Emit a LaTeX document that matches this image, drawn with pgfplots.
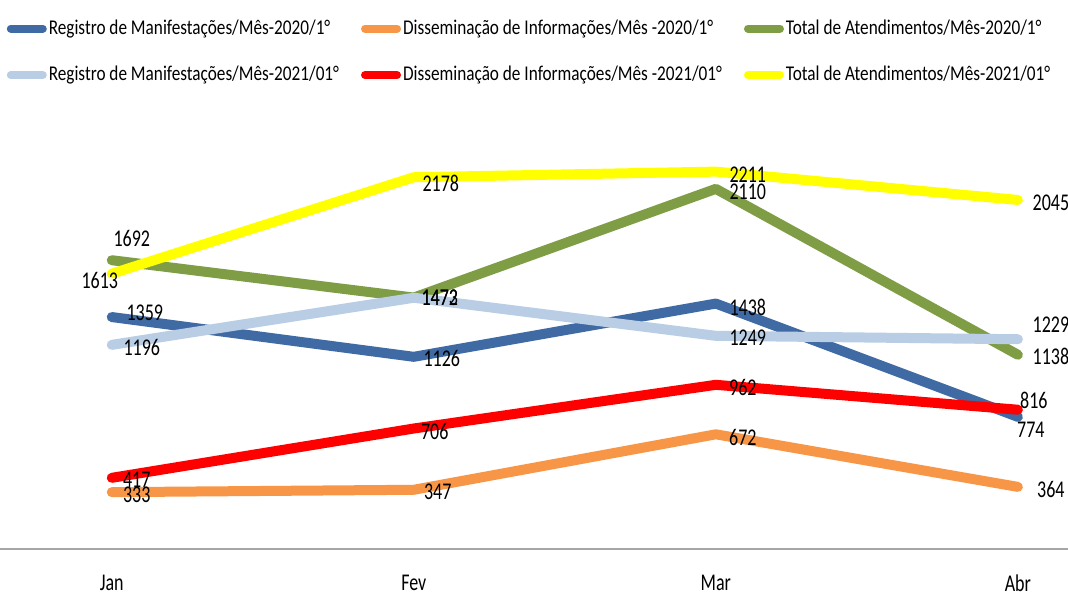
\documentclass[border=0pt]{standalone}
\usepackage{pgfplots}
\pgfplotsset{compat=1.18}
\usepackage{pgfplotstable}
\usepackage{fontspec}
\setmainfont{Carlito}
\newfontfamily\legfont[FakeStretch=0.82]{Carlito}
\newfontfamily\lblfont[FakeStretch=0.75]{Carlito}
\definecolor{cblue}{HTML}{3F6AA3}
\definecolor{corange}{HTML}{F79646}
\definecolor{cgreen}{HTML}{7E9D45}
\definecolor{clblue}{HTML}{B9CDE5}
\definecolor{cred}{HTML}{FF0000}
\definecolor{cyellow}{HTML}{FFFF00}
\pgfplotstableread{
x y dx dy
0 1359 16.5 2
1 1126 14 -1
2 1438 16 -1.75
3 774 6.5 -6.5
}\tblue
\pgfplotstableread{
x y dx dy
0 333 12.5 -1.5
1 347 12 -1
2 672 13.5 -1.5
3 364 16.5 -1.5
}\torange
\pgfplotstableread{
x y dx dy
0 1692 10 11
1 1473 13 0
2 2110 16 -1.5
3 1138 16.5 -1
}\tgreen
\pgfplotstableread{
x y dx dy
0 1196 15 -1.5
1 1472 13 0
2 1249 16 -1
3 1229 16.5 7.5
}\tlblue
\pgfplotstableread{
x y dx dy
0 417 12.5 -1
1 706 10.5 -1.5
2 962 13.5 -1.5
3 816 8 4.5
}\tred
\pgfplotstableread{
x y dx dy
0 1613 -6 -3.5
1 2178 13.5 -3
2 2211 16 -1.5
3 2045 16.5 -1.5
}\tyellow
\begin{document}
\begin{tikzpicture}
\useasboundingbox (0,-23pt) rectangle (534pt,274.5pt);
\begin{axis}[
 at={(0,0)}, anchor=south west,
 scale only axis, width=534pt, height=219.5pt,
 xmin=-0.37, xmax=3.166, ymin=0, ymax=2572,
 axis x line=bottom, axis y line=none,
 axis line style={-, draw=gray!70, line width=1pt},
 xtick={0,1,2,3}, xticklabels={Jan,Fev,Mar,Abr},
 major tick length=0pt,
 xticklabel style={font=\lblfont\fontsize{12}{14}\selectfont, anchor=center, inner sep=0pt, yshift=-17pt},
 ytick=\empty,
 clip=false,
 legend columns=3,
 legend cell align=left,
 legend style={draw=none, fill=none, at={(0.006,1.211)}, anchor=north west,
   font=\legfont\fontsize{10.5}{12}\selectfont,
   nodes={inner sep=1pt},
   /tikz/every even column/.append style={column sep=10pt},
   /tikz/column 4/.append style={column sep=0pt},
   row sep=12.5pt, inner sep=0pt},
 legend image code/.code={\draw[line width=4pt, line cap=round] (2pt,0pt) -- (18pt,0pt);},
 every axis plot/.append style={line width=5pt, line cap=round, line join=round, mark=none},
 nodes near coords,
 point meta=explicit symbolic,
 visualization depends on={\thisrow{dx} \as \dx},
 visualization depends on={\thisrow{dy} \as \dy},
 every node near coord/.append style={font=\lblfont\fontsize{12}{14}\selectfont, text=black, anchor=center, xshift=\dx pt, yshift=\dy pt},
]
\addplot[cblue] table[x=x,y=y,meta=y] {\tblue};
\addlegendentry{Registro de Manifestações/Mês-2020/1°}
\addplot[corange] table[x=x,y=y,meta=y] {\torange};
\addlegendentry{Disseminação de Informações/Mês -2020/1°}
\addplot[cgreen] table[x=x,y=y,meta=y] {\tgreen};
\addlegendentry{Total de Atendimentos/Mês-2020/1°}
\addplot[clblue] table[x=x,y=y,meta=y] {\tlblue};
\addlegendentry{Registro de Manifestações/Mês-2021/01°}
\addplot[cred] table[x=x,y=y,meta=y] {\tred};
\addlegendentry{Disseminação de Informações/Mês -2021/01°}
\addplot[cyellow] table[x=x,y=y,meta=y] {\tyellow};
\addlegendentry{Total de Atendimentos/Mês-2021/01°}
\end{axis}
\end{tikzpicture}
\end{document}
